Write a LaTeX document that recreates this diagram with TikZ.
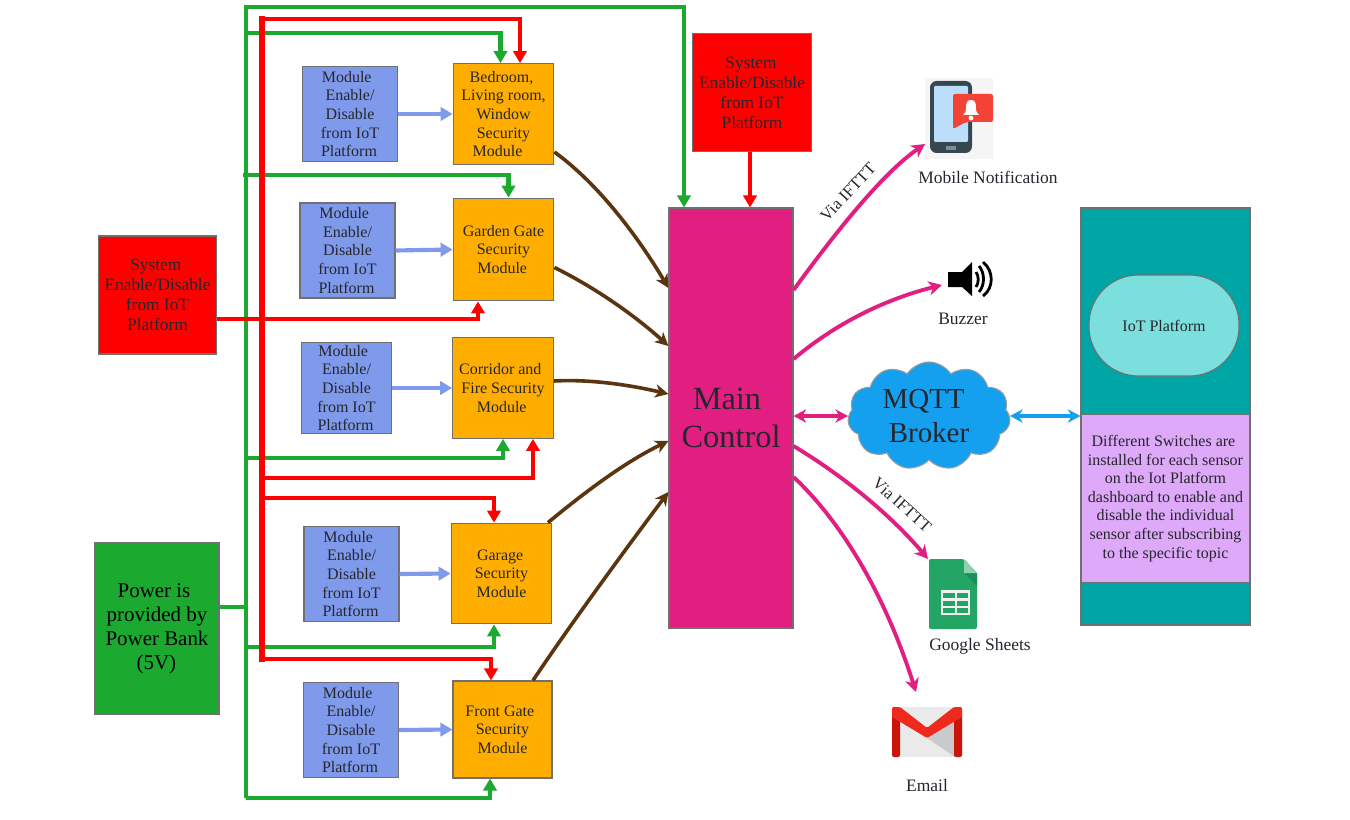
\documentclass[tikz,border=0pt]{standalone}
\usepackage{fontspec}
\setmainfont{Liberation Serif}
\usetikzlibrary{arrows.meta,calc,shapes.symbols}
\definecolor{modblue}{HTML}{7F9AEB}
\definecolor{secorange}{HTML}{FFAE00}
\definecolor{sysred}{HTML}{FF0000}
\definecolor{pwrgreen}{HTML}{1BAA2F}
\definecolor{mainpink}{HTML}{E31E81}
\definecolor{brownline}{HTML}{5A3510}
\definecolor{cloudblue}{HTML}{149FEF}
\definecolor{teal1}{HTML}{00A6A6}
\definecolor{iotfill}{HTML}{7ADFDD}
\definecolor{purp}{HTML}{DDA9F8}
\definecolor{edgegray}{HTML}{707070}
\definecolor{inkc}{HTML}{26262E}
\newcommand{\tr}[1]{\hspace*{#1pt}}
\newcommand{\modtext}{Module\tr{5}\\Enable/\tr{3}\\Disable\tr{5}\\from IoT\tr{5}\\Platform\tr{1.5}}
\tikzset{
  boxbase/.style={draw=edgegray,line width=.85pt,inner sep=0pt,align=center,text=inkc,rectangle},
  modbox/.style={boxbase,fill=modblue,minimum width=71.25pt,minimum height=71.25pt,font=\fontsize{12}{13.9}\selectfont},
  secbox/.style={boxbase,fill=secorange,minimum width=75.5pt,minimum height=75.5pt,font=\fontsize{12}{13.9}\selectfont},
  sysbox/.style={boxbase,fill=sysred,minimum width=89pt,minimum height=88.5pt,font=\fontsize{13}{15}\selectfont},
  pwrbox/.style={boxbase,fill=pwrgreen,text=black,minimum width=93pt,minimum height=128.5pt,font=\fontsize{15.7}{18}\selectfont},
  mainbox/.style={boxbase,fill=mainpink,minimum width=93pt,minimum height=315pt,font=\fontsize{24.3}{28.5}\selectfont},
  panelbox/.style={boxbase,fill=teal1,minimum width=126.75pt,minimum height=312.75pt},
  iotbox/.style={boxbase,fill=iotfill,rounded corners=37pt,minimum width=112.5pt,minimum height=75.75pt,font=\fontsize{12}{14}\selectfont},
  notebox/.style={boxbase,fill=purp,text=inkc,minimum width=126.75pt,minimum height=126.3pt,font=\fontsize{12}{13.9}\selectfont},
  cloudnode/.style={cloud,cloud puffs=11,cloud puff arc=115,aspect=1.5,draw=edgegray!70,line width=.8pt,fill=cloudblue,inner sep=0pt,align=center,text=inkc,minimum width=122pt,minimum height=81pt,font=\fontsize{21.7}{25.5}\selectfont},
  lbl/.style={inner sep=0pt,text=inkc,font=\fontsize{13.1}{15}\selectfont},
  vialbl/.style={inner sep=0pt,text=inkc,font=\fontsize{12.5}{15}\selectfont},
  gline/.style={draw=pwrgreen,line width=3.1pt,-{Triangle[length=9pt,width=10pt]}},
  gplain/.style={draw=pwrgreen,line width=3.1pt},
  rline/.style={draw=sysred,line width=3.1pt,-{Triangle[length=9pt,width=10pt]}},
  rplain/.style={draw=sysred,line width=3.8pt,line cap=rect},
  bline/.style={draw=modblue,line width=3.1pt,-{Triangle[length=9pt,width=10pt]}},
  brline/.style={draw=brownline,line width=2.7pt,-{Stealth[length=10pt,width=10pt,inset=3pt]}},
  pline/.style={draw=mainpink,line width=2.9pt,-{Stealth[length=10pt,width=10.5pt,inset=3pt]}},
  pboth/.style={draw=mainpink,line width=2.9pt,{Stealth[length=9.5pt,width=10pt,inset=3pt]}-{Stealth[length=9.5pt,width=10pt,inset=3pt]}},
  cboth/.style={draw=cloudblue,line width=2.9pt,{Stealth[length=9.5pt,width=10pt,inset=3pt]}-{Stealth[length=9.5pt,width=10pt,inset=3pt]}},
}
\begin{document}
\begin{tikzpicture}[x=0.75pt,y=-0.75pt]
\useasboundingbox (0,0) rectangle (1350,820);
\fill[white] (0,0) rectangle (1350,820);

% Module boxes
\node[modbox] (m1) at (350,114) {\modtext};
\node[modbox] (m2) at (347.5,250.5) {\modtext};
\node[modbox,minimum width=67.5pt,minimum height=68pt] (m3) at (346.5,388) {\modtext};
\node[modbox] (m4) at (351.5,574) {\modtext};
\node[modbox] (m5) at (351,730) {\modtext};

% Security modules
\node[secbox] (s1) at (503.5,114) {Bedroom,\tr{3}\\Living room,\\Window\\Security\\Module\tr{9}};
\node[secbox,minimum height=77pt] (s2) at (503.5,249.5) {Garden Gate\\Security\tr{2}\\Module\tr{2}};
\node[secbox] (s3) at (503,388) {Corridor and\tr{4}\\Fire Security\tr{4}\\Module\tr{2}};
\node[secbox] (s4) at (501.5,573.5) {Garage\tr{2}\\Security\tr{2}\\Module};
\node[secbox,minimum width=74.25pt,minimum height=72.75pt] (s5) at (502.5,729.5) {Front Gate\tr{4}\\Security\tr{3}\\Module};

% Control boxes
\node[sysbox] (sysl) at (157.5,295) {System\tr{2.5}\\Enable/Disable\tr{3}\\from IoT\tr{1.5}\\Platform};
\node[sysbox] (syst) at (752,92.5) {System\tr{1.5}\\Enable/Disable\tr{1.5}\\from IoT\\Platform};
\node[pwrbox] (pwr) at (157,628.5) {Power is\tr{4.5}\\provided by\tr{5}\\Power Bank\tr{4.5}\\(5V)\tr{1}};
\node[mainbox] (main) at (731,418) {Main\ \ \\Control};
\node[cloudnode] (mqtt) at (929,416) {MQTT\tr{8}\\Broker};

% Right panel
\node[panelbox] (panel) at (1165.5,416.5) {};
\node[iotbox] (iot) at (1164,325.5) {IoT Platform};
\node[notebox] (note) at (1165.5,498.5) {Different Switches are\tr{3}\\installed for each sensor\\on the Iot Platform\\dashboard to enable and\\disable the individual\\sensor after subscribing\tr{3}\\to the specific topic};

% Trunk junctions
\coordinate (gtop) at (246,7);
\coordinate (gbot) at (246,798);
\coordinate (g1) at (246,33);
\coordinate (g2) at (243,175);
\coordinate (g3) at (246,458);
\coordinate (gp) at (246,607);
\coordinate (g4) at (246,647);
\coordinate (rtop) at (262,19);
\coordinate (r3) at (262,478);
\coordinate (r4) at (262,498);
\coordinate (rbot) at (262,659);

% Green power lines
\draw[gline] (gbot) -- (gtop) -| ($(main.north)+(-47,0)$);
\draw[gline] (g1) -| ($(s1.north)+(-3,0)$);
\draw[gline] (g2) -| ($(s2.north)+(5,0)$);
\draw[gline] (g3) -| (s3.south);
\draw[gline] (g4) -| ($(s4.south)+(-7.5,0)$);
\draw[gline] (gbot) -| ($(s5.south)+(-12.5,0)$);
\draw[gplain] (pwr.east |- gp) -- (gp);

% Red enable lines
\draw[rplain] (rtop) -- (rbot);
\draw[rline] (rtop) -| ($(s1.north)+(16.5,0)$);
\draw[rline] (sysl.east |- 0,319) -| ($(s2.south)+(-25.5,0)$);
\draw[rline] (r3) -| ($(s3.south)+(30,0)$);
\draw[rline] (r4) -| ($(s4.north)+(-7.5,0)$);
\draw[rline] (rbot) -| ($(s5.north)+(-11.5,0)$);
\draw[rline] (syst.south -| 750,0) -- ($(main.north)+(19,0)$);

% Module to security
\draw[bline] (m1.east) -- (s1.west);
\draw[bline] (m2.east) -- (s2.west);
\draw[bline] (m3.east) -- (s3.west);
\draw[bline] (m4.east) -- (s4.west);
\draw[bline] (m5.east) -- (s5.west);

% Security to main
\draw[brline] ($(s1.east)+(0,38)$) .. controls (600,185) and (640,240) .. ($(main.west)+(0,-130)$);
\draw[brline] ($(s2.east)+(0,18)$) .. controls (600,290) and (640,320) .. ($(main.west)+(0,-72)$);
\draw[brline] (s3.east |- 0,381) .. controls (590,379) and (630,385) .. ($(main.west)+(0,-24)$);
\draw[brline] ($(s4.north)+(46.5,0)$) .. controls (585,492) and (625,462) .. ($(main.west)+(0,23)$);
\draw[brline] ($(s5.north)+(30.5,0)$) .. controls (570,625) and (625,550) .. ($(main.west)+(0,74)$);

% Icons and labels
\fill[black!4] (925,78) rectangle (993,159);
\fill[fill={rgb,255:red,55;green,71;blue,79},rounded corners=5pt] (930,81) rectangle (972,153);
\fill[fill={rgb,255:red,187;green,222;blue,251},rounded corners=.8pt] (934,86) rectangle (968,142);
\fill[fill={rgb,255:red,120;green,144;blue,156}] (946,146) rectangle (956,150);
\fill[fill={rgb,255:red,244;green,67;blue,54},rounded corners=1.5pt] (953,129) -- (953,94) -- (993,94) -- (993,122) -- (966,122) -- cycle;
\fill[white] (971,100) .. controls (967,100) and (966,103) .. (966,108) .. controls (966,112) and (965,113) .. (963,115) -- (979,115) .. controls (977,113) and (976,112) .. (976,108) .. controls (976,103) and (975,100) .. (971,100) -- cycle;
\fill[white] (971,118) circle [radius=2.4];
\coordinate (phone) at (925,144);
\node[lbl] (nmob) at (988,177) {Mobile Notification};

\fill[black] (948,272) -- (962,272) -- (972,262) -- (972,296) -- (962,287) -- (948,287) -- cycle;
\draw[black,line width=2.1pt] (976,272) .. controls (979,276) and (979,283) .. (976,287);
\draw[black,line width=2.1pt] (979,266) .. controls (985,273) and (985,285) .. (979,292);
\draw[black,line width=2.1pt] (983,262) .. controls (994,271) and (994,288) .. (983,296);
\coordinate (buzz) at (942,285);
\node[lbl] (nbuz) at (963,319) {Buzzer};

\fill[fill={rgb,255:red,35;green,165;blue,102},rounded corners=1.5pt] (929,629) -- (929,559) -- (964,559) -- (977,573) -- (977,629) -- cycle;
\fill[fill={rgb,255:red,27;green,143;blue,88}] (964,573) -- (977,573) -- (977,586) -- cycle;
\fill[fill={rgb,255:red,142;green,209;blue,177}] (964,559) -- (977,573) -- (964,573) -- cycle;
\fill[fill={rgb,255:red,241;green,241;blue,241}] (941,590) rectangle (970,615);
\foreach \ya/\yb in {593/598,601/606,608/613}{
  \fill[fill={rgb,255:red,35;green,165;blue,102}] (943,\ya) rectangle (955,\yb);
  \fill[fill={rgb,255:red,35;green,165;blue,102}] (957,\ya) rectangle (968,\yb);
}
\coordinate (sheet) at (928,559);
\node[lbl] (nsh) at (980,646) {Google Sheets};

\fill[fill={rgb,255:red,234;green,234;blue,234},rounded corners=1.5pt] (892,707) rectangle (962,757);
\fill[fill={rgb,255:red,200;green,202;blue,204}] (927,738) -- (955,720) -- (955,757) -- cycle;
\fill[fill={rgb,255:red,204;green,20;blue,8},rounded corners=1.5pt] (892,712) -- (892,757) -- (900,757) -- (900,712) -- cycle;
\fill[fill={rgb,255:red,204;green,20;blue,8},rounded corners=1.5pt] (954,712) -- (954,757) -- (962,757) -- (962,712) -- cycle;
\fill[fill={rgb,255:red,240;green,41;blue,31},rounded corners=1pt] (892,707) -- (900,707) -- (927,728) -- (954,707) -- (962,707) -- (962,717) -- (927,738) -- (892,717) -- cycle;
\coordinate (gm) at (916,692);
\node[lbl] (nem) at (927,786) {Email};

% Main to outputs
\draw[pline] ($(main.east)+(0,-128)$) .. controls (830,240) and (880,175) .. (phone);
\draw[pline] ($(main.east)+(0,-59)$) .. controls (840,320) and (890,298) .. (buzz);
\draw[pline] ($(main.east)+(0,28)$) .. controls (850,480) and (895,520) .. (sheet);
\draw[pline] ($(main.east)+(0,59)$) .. controls (850,530) and (890,610) .. (gm);
\draw[pboth] (mqtt.west -| main.east) -- (mqtt.west);
\draw[cboth] (mqtt.east) -- (mqtt.east -| panel.west);

\node[vialbl,rotate=47] (via1) at (848,192) {Via IFTTT};
\node[vialbl,rotate=-42] (via2) at (902,505) {Via IFTTT};
\end{tikzpicture}
\end{document}
